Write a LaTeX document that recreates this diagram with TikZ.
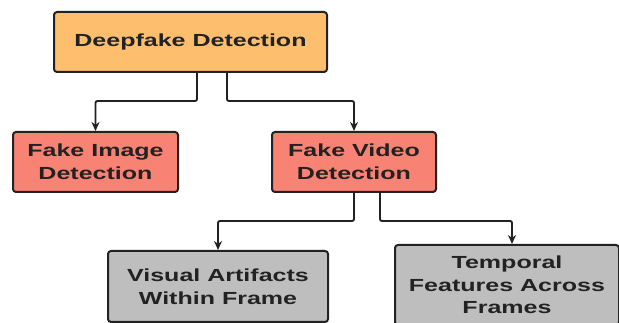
\documentclass[tikz,border=0pt]{standalone}
\usepackage{fontspec}
\setmainfont{Liberation Sans}
\newfontfamily\boxfont[FakeStretch=1.43]{Liberation Sans}
\usetikzlibrary{arrows.meta,positioning}
\definecolor{myorange}{RGB}{253,190,110}
\definecolor{mysalmon}{RGB}{248,130,116}
\definecolor{mygray}{RGB}{190,190,190}
\definecolor{myline}{RGB}{34,34,34}

\begin{document}
\begin{tikzpicture}[x=1pt,y=1pt,
  box/.style={draw=myline, line width=2pt, rounded corners=3pt, align=center, inner sep=0pt,
    text=myline, font=\boxfont\bfseries\fontsize{17.5}{22.5}\selectfont},
  link/.style={draw=myline, line width=1.9pt, rounded corners=2pt, -{Stealth[length=9pt,width=8pt]}}]
  \useasboundingbox (0,0) rectangle (619,323);
  % boxes
  \node[box, fill=myorange, minimum width=273pt, minimum height=60pt] (deep) at (190.5,281) {Deepfake Detection};
  \node[box, fill=mysalmon, minimum width=165pt, minimum height=60pt] (fimg) at (95.5,161) {Fake Image\\Detection};
  \node[box, fill=mysalmon, minimum width=164pt, minimum height=60pt] (fvid) at (354,161) {Fake Video\\Detection};
  \node[box, fill=mygray, minimum width=220pt, minimum height=71pt] (vis) at (218,36.5) {Visual Artifacts\\Within Frame};
  \node[box, fill=mygray, minimum width=224pt, minimum height=80pt] (temp) at (507,38) {Temporal\\Features Across\\Frames};
  % connectors
  \draw[link] ([xshift=6.5pt]deep.south) -- ++(0,-28) -| (fimg.north);
  \draw[link] ([xshift=36.5pt]deep.south) -- ++(0,-28) -| (fvid.north);
  \draw[link] (fvid.south) -- ++(0,-28) -| (vis.north);
  \draw[link] ([xshift=26pt]fvid.south) -- ++(0,-28) -| ([xshift=5pt]temp.north);
\end{tikzpicture}
\end{document}
